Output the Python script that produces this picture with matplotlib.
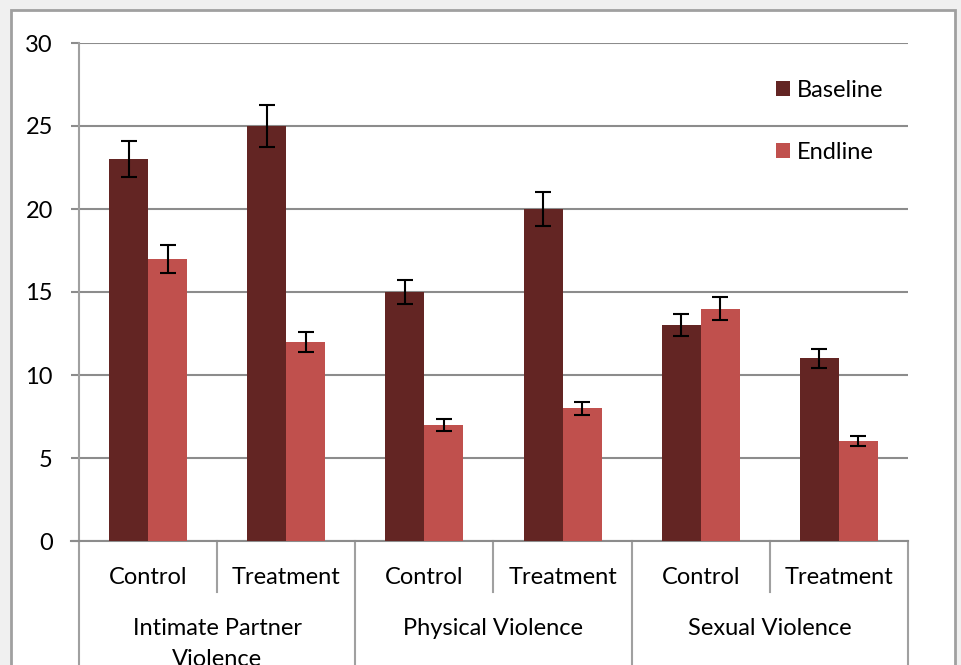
import matplotlib.pyplot as plt
from matplotlib.patches import Rectangle
import matplotlib.transforms as mtransforms

plt.rcParams['font.family'] = ['Lato', 'DejaVu Sans']

sub_labels = ["Control", "Treatment", "Control", "Treatment", "Control", "Treatment"]
group_labels = ["Intimate Partner\nViolence", "Physical Violence", "Sexual Violence"]
baseline = [23, 25, 15, 20, 13, 11]
endline = [17, 12, 7, 8, 14, 6]
baseline_err = [1.1, 1.25, 0.75, 1.0, 0.65, 0.55]
endline_err = [0.85, 0.6, 0.35, 0.4, 0.7, 0.3]

c_base = "#632523"
c_end = "#c0504d"
grid_c = "#8c8c8c"
fs = 17

fig = plt.figure(figsize=(9.61, 6.65), dpi=100)
fig.patch.set_facecolor("#f0f0f0")
# chart area frame
fig.patches.append(Rectangle((11 / 961, -0.05), 944 / 961, 1.05 - 10 / 665,
                             transform=fig.transFigure, facecolor="white",
                             edgecolor="#a0a0a0", linewidth=2, zorder=-10))

ax = fig.add_axes([79 / 961, 1 - 541 / 665, 829 / 961, 498 / 665])
ax.set_facecolor("white")

x = list(range(len(sub_labels)))
w = 0.282
ax.bar([i - w / 2 for i in x], baseline, width=w, color=c_base, label="Baseline",
       yerr=baseline_err, error_kw=dict(ecolor="black", elinewidth=1.5, capsize=6, capthick=1.5),
       zorder=3)
ax.bar([i + w / 2 for i in x], endline, width=w, color=c_end, label="Endline",
       yerr=endline_err, error_kw=dict(ecolor="black", elinewidth=1.5, capsize=6, capthick=1.5),
       zorder=3)

ax.set_xlim(-0.5, len(sub_labels) - 0.5)
ax.set_ylim(0, 30)
ax.set_yticks(range(0, 31, 5))
ax.tick_params(axis="y", labelsize=fs, length=5.8, width=1.5, color=grid_c, pad=13)
ax.yaxis.grid(True, color=grid_c, linewidth=1.5, zorder=0)
ax.set_axisbelow(True)
ax.set_xticks([])
for s in ["top", "right"]:
    ax.spines[s].set_visible(False)
ax.spines["left"].set_color("#a0a0a0")
ax.spines["left"].set_linewidth(1.5)
ax.spines["bottom"].set_color(grid_c)
ax.spines["bottom"].set_linewidth(1.5)

# hierarchical category axis
tr = mtransforms.blended_transform_factory(ax.transData, ax.transAxes)
for i, lab in enumerate(sub_labels):
    ax.text(i, -0.073, lab, transform=tr, ha="center", va="center", fontsize=fs)
for g, lab in enumerate(group_labels):
    ax.text(2 * g + 0.5, -0.154, lab, transform=tr, ha="center", va="top",
            fontsize=fs, linespacing=1.6)
for g in range(4):
    ax.plot([2 * g - 0.5] * 2, [0, -0.3], transform=tr, color="#a0a0a0",
            lw=1.5, clip_on=False)
for g in range(3):
    ax.plot([2 * g + 0.5] * 2, [0, -0.102], transform=tr, color="#a0a0a0",
            lw=1.5, clip_on=False)
ax.plot([-0.56, -0.5], [0, 0], transform=tr, color=grid_c, lw=1.5, clip_on=False)

ax.legend(loc="upper left", bbox_to_anchor=(0.829, 0.945), frameon=False, fontsize=fs,
          handlelength=0.6, handleheight=0.6, handletextpad=0.3, labelspacing=1.75,
          borderaxespad=0)

fig.savefig("out.png", dpi=100, facecolor=fig.get_facecolor())
